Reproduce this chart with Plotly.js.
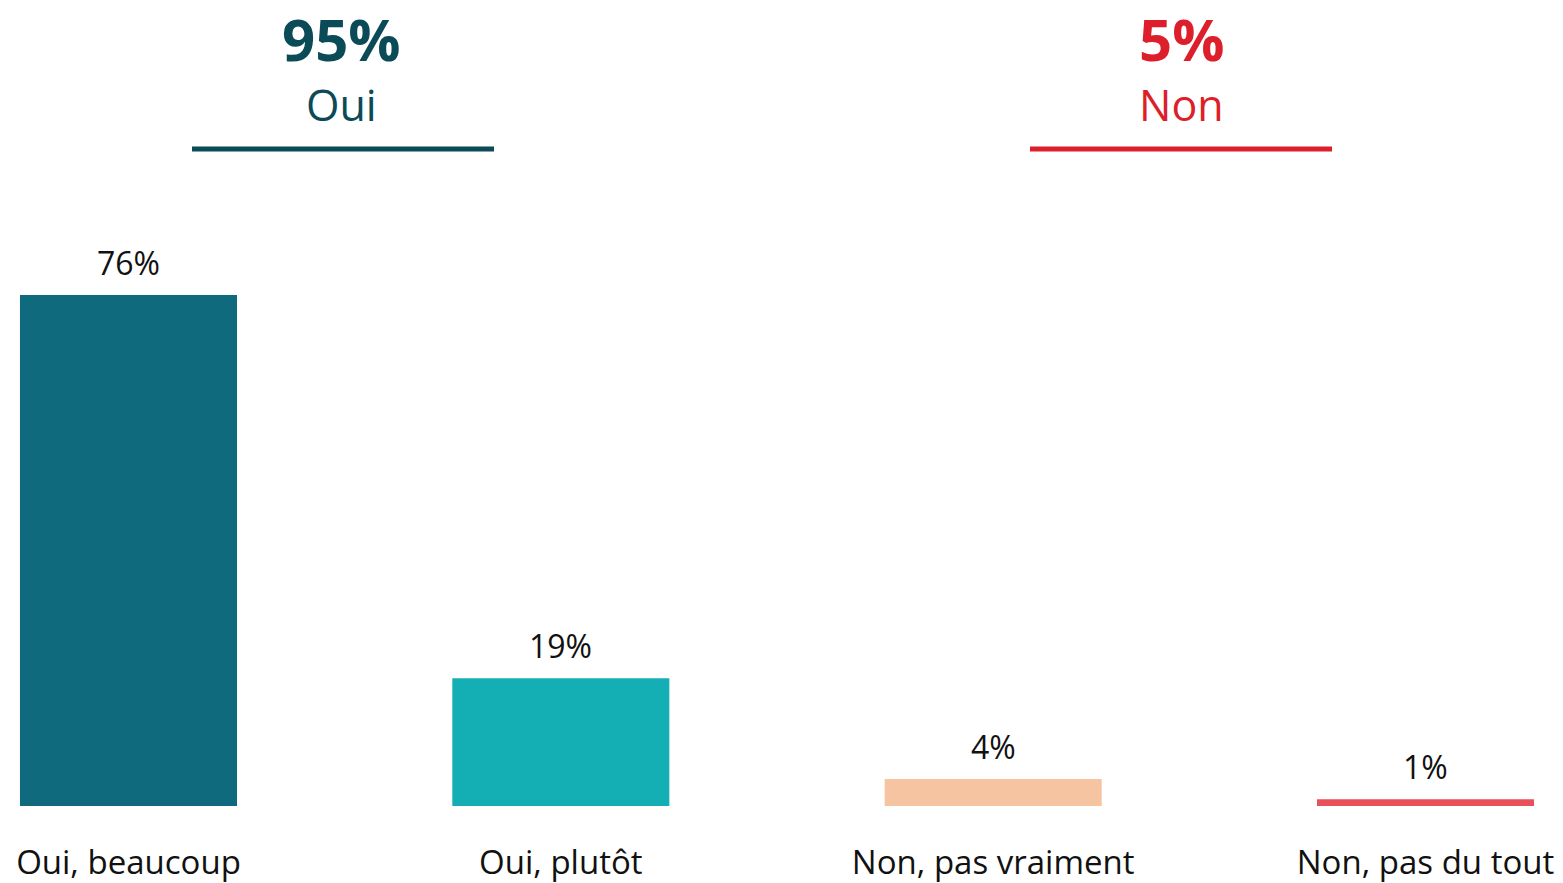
<!DOCTYPE html>
<html>
<head>
<meta charset="utf-8">
<script src="https://cdn.plot.ly/plotly-3.0.1.min.js"></script>
<style>html,body{margin:0;padding:0;background:#fff;}#chart{width:1563px;height:883px;}</style>
</head>
<body>
<div id="chart"></div>
<script>
const categories = ["Oui, beaucoup", "Oui, plutôt", "Non, pas vraiment", "Non, pas du tout"];
const values = [76, 19, 4, 1];
const barColors = ["#0f6a7e", "#14aeb5", "#f7c4a2", "#e8505a"];
const groupNames = ["Oui", "Non"];
const groupMembers = [[0, 1], [2, 3]];
const groupColors = ["#0b4a57", "#dc1f2a"];
const groupTotals = groupMembers.map(m => m.reduce((s, i) => s + values[i], 0));

const font = "Open Sans, Noto Sans, sans-serif";

const trace = {
  type: "bar",
  x: categories,
  y: values,
  width: 0.502,
  marker: {color: barColors, line: {width: 0}},
  hoverinfo: "none"
};

const annotations = categories.map((c, i) => ({
  x: c, y: values[i], xref: "x", yref: "y",
  text: values[i] + "%", showarrow: false,
  yanchor: "bottom", yshift: 9,
  font: {family: font, size: 32, color: "#111111"}
}));

const headerX = [341 / 1563, 1181 / 1563];
const lineX = [[192 / 1563, 494 / 1563], [1030 / 1563, 1332 / 1563]];
const shapes = [];
groupNames.forEach((g, k) => {
  annotations.push({
    x: headerX[k], y: 38, xref: "paper", yref: "paper",
    text: "<b>" + groupTotals[k] + "%</b>", showarrow: false,
    xanchor: "center", yanchor: "middle", borderpad: 0,
    font: {family: font, size: 58, color: groupColors[k]}
  });
  shapes.push({
    type: "line", xref: "paper", yref: "paper",
    x0: lineX[k][0], x1: lineX[k][1], y0: 0, y1: 0,
    line: {color: groupColors[k], width: 5}
  });
  annotations.push({
    x: headerX[k], y: 105, xref: "paper", yref: "paper",
    text: g, showarrow: false,
    xanchor: "center", yanchor: "middle", borderpad: 0,
    font: {family: font, size: 43, color: groupColors[k]}
  });
});

// convert pixel-based header y to paper coordinates
const H = 883, mt = 0, mb = 77;
const plotH = H - mt - mb;
annotations.forEach(a => {
  if (a.xref === "paper") a.y = (H - mb - a.y) / plotH;
});
shapes.forEach(s => { s.y0 = s.y1 = (H - mb - 149) / plotH; });

const layout = {
  width: 1563, height: 883,
  margin: {l: 0, r: 0, t: mt, b: mb, pad: 0},
  paper_bgcolor: "#ffffff", plot_bgcolor: "#ffffff",
  showlegend: false,
  bargap: 0.5,
  xaxis: {
    type: "category",
    range: [-0.2972, 3.318],
    showgrid: false, zeroline: false, showline: false,
    ticks: "", ticklabelstandoff: 34,
    tickfont: {family: font, size: 33, color: "#111111"},
    fixedrange: true
  },
  yaxis: {
    range: [0, 119.87],
    visible: false, showgrid: false, zeroline: false,
    fixedrange: true
  },
  annotations: annotations,
  shapes: shapes
};

Plotly.newPlot("chart", [trace], layout, {displayModeBar: false, staticPlot: true});
</script>
</body>
</html>
